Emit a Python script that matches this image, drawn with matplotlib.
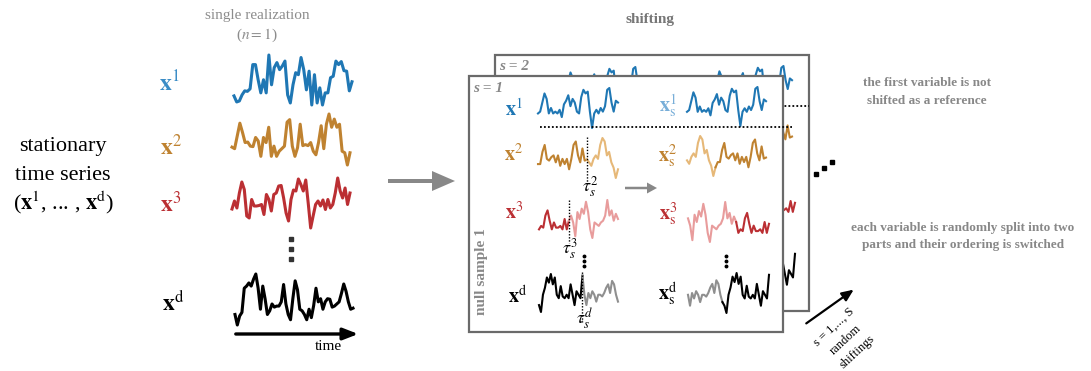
import numpy as np
import matplotlib.pyplot as plt
from matplotlib.patches import Rectangle, FancyArrow

plt.rcParams['font.family'] = ['Liberation Serif', 'DejaVu Serif']
plt.rcParams['mathtext.fontset'] = 'stix'

# single realization (left column)
x1_full = [2.1, 0.9, 1.1, 2.3, 3.1, 3.0, 3.5, 8.3, 8.3, 5.3, 2.7, 5.3, 2.7, 10.2, 4.3,
           7.7, 8.7, 7.3, 8.0, 9.0, 2.3, 0.7, 4.3, 6.7, 6.3, 9.7, 7.3, 3.3, 7.0, 0.3,
           6.3, 0.7, 3.7, 0.3, 2.7, 2.7, 5.7, 6.0, 9.0, 8.3, 8.9, 7.1, 7.0, 3.1, 4.9]
x2_full = [3.8, 3.5, 6.0, 8.5, 6.7, 4.7, 4.8, 4.0, 3.9, 5.7, 5.0, 2.0, 5.7, 4.7, 7.7,
           2.0, 4.0, 2.0, 3.0, 3.5, 4.0, 8.7, 9.2, 4.0, 2.0, 3.7, 8.3, 4.1, 4.3, 4.1,
           4.7, 3.0, 2.3, 4.7, 8.0, 3.5, 8.3, 10.3, 7.7, 9.3, 7.7, 8.3, 3.0, 2.7, 0.3, 2.7]
x3_full = [4.1, 5.7, 4.3, 7.3, 9.5, 8.0, 2.7, 2.3, 6.0, 4.7, 4.7, 4.8, 5.0, 3.0, 7.0,
           6.0, 3.7, 7.0, 7.3, 8.7, 8.8, 6.3, 3.3, 1.7, 6.0, 7.9, 7.7, 10.1, 9.0, 7.7,
           9.9, 5.3, 0.3, 2.7, 5.0, 5.7, 4.7, 5.9, 4.0, 6.0, 4.3, 5.0, 7.3, 10.3, 7.7,
           6.3, 8.3, 5.0, 7.3]
xd_full = [2.3, 0.3, 2.0, 2.7, 7.3, 7.7, 8.3, 7.7, 9.0, 10.0, 7.3, 3.3, 7.7, 5.3, 2.3,
           3.0, 4.3, 3.7, 3.9, 3.9, 4.7, 8.0, 4.3, 2.3, 1.3, 5.3, 8.7, 7.0, 3.3, 3.0,
           2.3, 1.3, 3.3, 1.7, 4.0, 7.3, 4.7, 5.3, 3.3, 4.7, 5.3, 5.2, 3.7, 3.9, 4.3,
           4.7, 6.3, 8.1, 6.7, 4.7, 3.3, 3.5]

# null sample: first part / second part of each variable
s1 = [4, 4.5, 7, 9.5, 8, 4, 5.5, 4, 4.5, 4, 5, 3, 6.5, 7.5, 9, 6, 8, 7, 4.5, 4,
      8.5, 10.5, 9.5, 10, 4.5, 0, 4, 5, 4, 5.5, 4.5, 6, 10.5, 11, 7, 4.5, 7.5, 7]
s2_a = [4.5, 4.5, 8, 10, 6, 5.5, 6.5, 7, 5, 7, 4, 6, 4.5, 6, 3, 6, 10, 11, 7, 5, 9, 5.5, 5.8]
s2_b = [5, 4, 6, 7, 6, 10, 12, 11, 7, 8, 5, 3.5, 0.5, 3]
s3_a = [4, 5, 4.5, 8, 9.5, 6.5, 4, 6, 4.5, 4.5, 5, 4, 7, 4, 6.5]
s3_b = [8, 6, 2, 9, 7, 10, 8.5, 12, 9, 4, 1.5, 6, 5.5, 5, 6, 6.5, 8, 12.5, 8, 9.5, 6.5, 8.5, 7]
sd_a = [3, 1, 6, 8, 11, 9.5, 12, 9, 11, 6, 5, 8.5, 5.5, 5, 6, 5, 9, 6, 3, 7, 6, 5, 11.5]
sd_b = [6, 3, 6.5, 5, 7, 6, 4, 6, 6, 5.5, 6.5, 8, 9, 6.5, 10, 9, 6, 4]

BLUE, BLUE_L = '#1f77b4', '#78aed8'
ORANGE, ORANGE_L = '#bf8230', '#e6b878'
RED, RED_L = '#bb2f33', '#e89c9c'
BLACK, BLACK_L = '#000000', '#8f8f8f'
GRAY = '#888888'


def series(ax, vals, x0, x1, ytop, ybot, color, lw, z):
    v = np.asarray(vals, float)
    xs = np.linspace(x0, x1, len(v))
    ys = ybot - (v - v.min()) / (v.max() - v.min()) * (ybot - ytop)
    ax.plot(xs, ys, color=color, lw=lw, zorder=z, solid_joinstyle='round')


def split_series(ax, first, second, x0, x1, ytop, ybot, c1, c2, lw, z):
    v = np.asarray(first + second, float)
    xs = np.linspace(x0, x1, len(v))
    ys = ybot - (v - v.min()) / (v.max() - v.min()) * (ybot - ytop)
    k = len(first)
    ax.plot(xs[:k], ys[:k], color=c1, lw=lw, zorder=z)
    ax.plot(xs[k - 1:], ys[k - 1:], color=c2, lw=lw, zorder=z)
    return xs[k - 1]


def null_sample(ax, dx, dy, z, label, front=True):
    ax.add_patch(Rectangle((469 + dx, 76 + dy), 314, 256, facecolor='white',
                           edgecolor='#6a6a6a', lw=1.6, zorder=z))
    z = z + 0.5
    ax.text(473 + dx, 88 + dy, label, color=GRAY, fontsize=11, style='italic',
            weight='bold', ha='left', va='center', zorder=z)
    if front:
        # labels are hidden behind the front sample for the ones further back
        ax.text(481, 272, 'null sample 1', color=GRAY, fontsize=11, weight='bold',
                rotation=90, ha='center', va='center', zorder=z)
        lx, rx, fs = 514, 668, 14.5
        ax.text(lx, 110, r'$\mathbf{x}^{1}$', color=BLUE, fontsize=fs, ha='center', va='center', zorder=z)
        ax.text(lx, 155, r'$\mathbf{x}^{2}$', color=ORANGE, fontsize=fs, ha='center', va='center', zorder=z)
        ax.text(lx, 213, r'$\mathbf{x}^{3}$', color=RED, fontsize=fs, ha='center', va='center', zorder=z)
        ax.text(lx + 4, 297, r'$\mathbf{x}^{\mathrm{d}}$', color=BLACK, fontsize=fs, ha='center', va='center', zorder=z)
        ax.text(rx, 106, r'$\mathbf{x}_{\mathrm{s}}^{1}$', color=BLUE_L, fontsize=fs, ha='center', va='center', zorder=z)
        ax.text(rx, 156, r'$\mathbf{x}_{\mathrm{s}}^{2}$', color=ORANGE, fontsize=fs, ha='center', va='center', zorder=z)
        ax.text(rx, 214, r'$\mathbf{x}_{\mathrm{s}}^{3}$', color=RED, fontsize=fs, ha='center', va='center', zorder=z)
        ax.text(rx, 294, r'$\mathbf{x}_{\mathrm{s}}^{\mathrm{d}}$', color=BLACK, fontsize=fs, ha='center', va='center', zorder=z)

    lw = 1.5
    L0, L1, R0, R1 = 538 + dx, 618 + dx, 687 + dx, 766 + dx
    series(ax, s1, L0, L1, 88 + dy, 128 + dy, BLUE, lw, z)
    series(ax, s1, R0, R1, 87 + dy, 126 + dy, BLUE, lw, z)
    dot_end = 792 if front else 809
    ax.plot([540 + dx, dot_end], [127 + dy, 127 + dy], color='black', lw=1.3, ls=(0, (1, 1.2)), zorder=z)

    xs2 = split_series(ax, s2_a, s2_b, L0, L1, 138 + dy, 178 + dy, ORANGE, ORANGE_L, lw, z)
    split_series(ax, s2_b, s2_a, R0, R1, 136 + dy, 176 + dy, ORANGE_L, ORANGE, lw, z)
    xs3 = split_series(ax, s3_a, s3_b, L0 + 1, L1, 200 + dy, 238 + dy, RED, RED_L, lw, z)
    split_series(ax, s3_b, s3_a, R0 + 1, R1 + 3, 202 + dy, 242 + dy, RED_L, RED, lw, z)
    xsd = split_series(ax, sd_a, sd_b, L0 + 1, L1, 274 + dy, 312 + dy, BLACK, BLACK_L, lw, z)
    split_series(ax, sd_b, sd_a, R0 + 1, R1 + 3, 273 + dy, 313 + dy, BLACK_L, BLACK, lw, z)
    if not front:
        return

    ax.plot([xs2, xs2], [137, 182], color='black', lw=1.0, ls=(0, (1, 1.2)), zorder=z)
    ax.text(xs2 + 3, 187, r'$\tau_s^{2}$', fontsize=13, ha='center', va='center', zorder=z)
    ax.add_patch(FancyArrow(625, 188, 22, 0, width=2.5, head_width=11, head_length=10,
                            color=GRAY, lw=0, zorder=z))
    ax.plot([xs3, xs3], [200, 243], color='black', lw=1.0, ls=(0, (1, 1.2)), zorder=z)
    ax.text(xs3 + 1, 249, r'$\tau_s^{3}$', fontsize=13, ha='center', va='center', zorder=z)
    ax.plot([xsd, xsd], [272, 322], color='black', lw=1.0, ls=(0, (1, 1.2)), zorder=z)
    ax.text(xsd + 2, 319, r'$\tau_s^{d}$', fontsize=13, ha='center', va='center', zorder=z)

    for cx in (584, 726):
        ax.plot([cx] * 3, [256, 261, 266], ls='none', marker='o', ms=1.8,
                color='black', zorder=z)


fig = plt.figure(figsize=(10.91, 3.71), dpi=100)
ax = fig.add_axes([0, 0, 1, 1])
ax.set_xlim(0, 1091)
ax.set_ylim(371, 0)
ax.axis('off')

# left block
ax.text(63, 147, 'stationary', fontsize=16, ha='center', va='center')
ax.text(63, 175, 'time series', fontsize=16, ha='center', va='center')
ax.text(63, 202, r'($\mathbf{x}^{1}$, ... , $\mathbf{x}^{\mathrm{d}}$)', fontsize=16, ha='center', va='center')

ax.text(257, 15, 'single realization', fontsize=11, color='#8c8c8c', ha='center', va='center')
ax.text(257, 35, r'($n = 1$)', fontsize=11, color='#8c8c8c', ha='center', va='center')

ax.text(169, 84, r'$\mathbf{x}^{1}$', color='#3a8cc6', fontsize=17, ha='center', va='center')
ax.text(171, 147, r'$\mathbf{x}^{2}$', color=ORANGE, fontsize=17, ha='center', va='center')
ax.text(171, 204, r'$\mathbf{x}^{3}$', color=RED, fontsize=17, ha='center', va='center')
ax.text(173, 303, r'$\mathbf{x}^{\mathrm{d}}$', color=BLACK, fontsize=17, ha='center', va='center')

series(ax, x1_full, 234, 352, 55, 105, BLUE, 2.2, 3)
series(ax, x2_full, 232, 350, 114, 165, ORANGE, 2.2, 3)
series(ax, x3_full, 232, 350, 178, 228, RED, 2.2, 3)
series(ax, xd_full, 235, 353, 274, 325, BLACK, 2.2, 3)

ax.plot([291] * 3, [239, 249, 259], ls='none', marker='s', ms=3.2, color='#333333')

ax.annotate('', xy=(361, 334), xytext=(233, 334),
            arrowprops=dict(arrowstyle='-|>,head_length=0.9,head_width=0.35', lw=2.4, color='black'))
ax.text(328, 347, 'time', fontsize=11, ha='center', va='center')

# big arrow
ax.add_patch(FancyArrow(388, 181, 44, 0, width=4, head_width=20, head_length=23, color=GRAY, lw=0))

ax.text(650, 19, 'shifting', fontsize=11, weight='bold', color='#777777', ha='center', va='center')

# stacked null samples
null_sample(ax, 26, -21, 1, 's = 2', front=False)
null_sample(ax, 0, 0, 5, 's = 1')

# more samples
ax.plot([816, 824, 832], [174, 168, 162], ls='none', marker='s', ms=2.8, color='black')
ax.annotate('', xy=(856, 288), xytext=(804, 325),
            arrowprops=dict(arrowstyle='-|>,head_length=0.7,head_width=0.3', lw=1.6, color='black'))
ax.text(834, 327, 's = 1,..., S', fontsize=9, rotation=43, ha='center', va='center', rotation_mode='anchor')
ax.text(846, 340, 'random', fontsize=9, rotation=43, ha='center', va='center', rotation_mode='anchor')
ax.text(857, 352, 'shiftings', fontsize=9, rotation=43, ha='center', va='center', rotation_mode='anchor')

ax.text(927, 83, 'the first variable is not', fontsize=9.5, weight='bold', color=GRAY, ha='center', va='center')
ax.text(927, 101, 'shifted as a reference', fontsize=9.5, weight='bold', color=GRAY, ha='center', va='center')
ax.text(963, 228, 'each variable is randomly split into two', fontsize=9.5, weight='bold', color=GRAY,
        ha='center', va='center')
ax.text(963, 245, 'parts and their ordering is switched', fontsize=9.5, weight='bold', color=GRAY,
        ha='center', va='center')

fig.savefig('out.png', dpi=100)
